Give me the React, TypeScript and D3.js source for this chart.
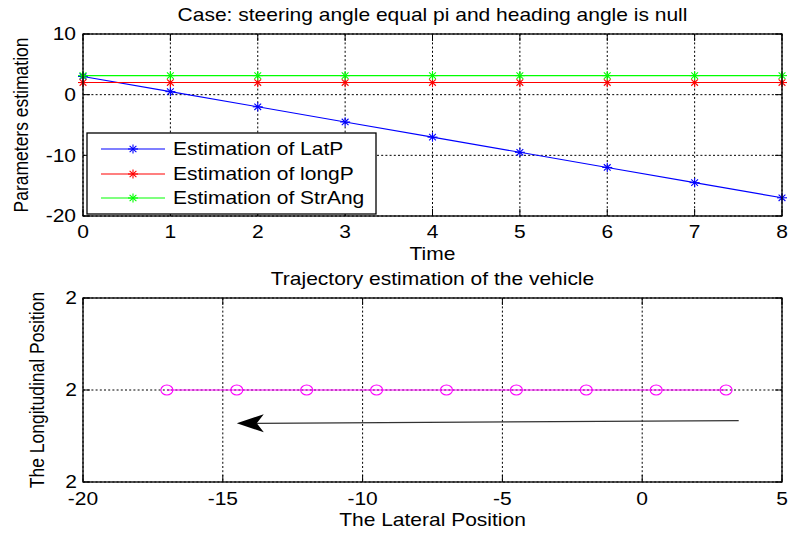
import React from "react";
import * as d3 from "d3";

const timeSteps = [0, 1, 2, 3, 4, 5, 6, 7, 8];
const latP = [3, 0.5, -2, -4.5, -7, -9.5, -12, -14.5, -17];
const longP = [2, 2, 2, 2, 2, 2, 2, 2, 2];
const strAng = [3.1416, 3.1416, 3.1416, 3.1416, 3.1416, 3.1416, 3.1416, 3.1416, 3.1416];

const topXTicks = [0, 1, 2, 3, 4, 5, 6, 7, 8];
const topYTicks = [10, 0, -10, -20];
const botXTicks = [-20, -15, -10, -5, 0, 5];
const botYTicks = [1.6, 2, 2.4];
const botYTickLabels = ["2", "2", "2"];

const seriesNames = ["Estimation of LatP", "Estimation of longP", "Estimation of StrAng"];
const seriesColors = ["#0000ff", "#ff0000", "#00ff00"];

const arrowFrom = { x: 3.45, y: 1.8665 };
const arrowTo = { x: -14.5, y: 1.855 };

const SX = 1.2;
const FONT = "'Liberation Sans', Arial, sans-serif";
const FS = 17.5;

const topBox = { l: 83, r: 782, t: 34, b: 216 };
const botBox = { l: 83, r: 782, t: 298, b: 482 };

function T({ x, y, children, anchor = "middle", rotate = false, size = FS, dy = "0" }: any) {
  const tr = `translate(${x},${y}) scale(${SX},1)` + (rotate ? " rotate(-90)" : "");
  return (
    <g transform={tr}>
      <text x={0} y={0} dy={dy} textAnchor={anchor} fontFamily={FONT} fontSize={size} fill="#000">
        {children}
      </text>
    </g>
  );
}

function Asterisk({ cx, cy, color }: any) {
  const h = 5, v = 4.6, d = 3.4, dv = 3.2;
  return (
    <g stroke={color} strokeWidth={1.1}>
      <line x1={cx - h} y1={cy} x2={cx + h} y2={cy} />
      <line x1={cx} y1={cy - v} x2={cx} y2={cy + v} />
      <line x1={cx - d} y1={cy - dv} x2={cx + d} y2={cy + dv} />
      <line x1={cx - d} y1={cy + dv} x2={cx + d} y2={cy - dv} />
    </g>
  );
}

function Frame({ box, xTicks, yTicks }: any) {
  const tl = 7;
  return (
    <g>
      <rect x={box.l} y={box.t} width={box.r - box.l} height={box.b - box.t} fill="none" stroke="#000" strokeWidth={1.3} />
      {xTicks.map((px: number, i: number) => (
        <g key={"x" + i} stroke="#000" strokeWidth={1}>
          <line x1={px} y1={box.b} x2={px} y2={box.b - tl} />
          <line x1={px} y1={box.t} x2={px} y2={box.t + tl} />
        </g>
      ))}
      {yTicks.map((py: number, i: number) => (
        <g key={"y" + i} stroke="#000" strokeWidth={1}>
          <line x1={box.l} y1={py} x2={box.l + tl} y2={py} />
          <line x1={box.r} y1={py} x2={box.r - tl} y2={py} />
        </g>
      ))}
    </g>
  );
}

export default function App() {
  const xT = d3.scaleLinear().domain([0, 8]).range([topBox.l, topBox.r]);
  const yT = d3.scaleLinear().domain([-20, 10]).range([topBox.b, topBox.t]);
  const xB = d3.scaleLinear().domain([-20, 5]).range([botBox.l, botBox.r]);
  const yB = d3.scaleLinear().domain([1.6, 2.4]).range([botBox.b, botBox.t]);

  const series = [latP, longP, strAng];
  const lineT = (vals: number[]) =>
    d3.line<number>().x((_, i) => xT(timeSteps[i])).y((v) => yT(v))(vals) || "";
  const trajLine =
    d3.line<number>().x((v) => xB(v)).y((_, i) => yB(longP[i]))(latP) || "";

  const ax1 = xB(arrowFrom.x), ay1 = yB(arrowFrom.y);
  const ax2 = xB(arrowTo.x), ay2 = yB(arrowTo.y);
  const ang = (Math.atan2(ay1 - ay2, ax1 - ax2) * 180) / Math.PI;

  const legend = { x: 87, y: 133, w: 289, h: 81 };
  const rowY = [149, 174, 198];

  return (
    <svg width={791} height={533} style={{ position: "absolute", left: 0, top: 0, background: "#fff" }}>
      <rect x={0} y={0} width={791} height={533} fill="#fff" />
      {/* TOP PLOT */}
      <g stroke="#000" strokeWidth={1} strokeDasharray="2,2.2">
        {topXTicks.map((t) => (
          <line key={t} x1={xT(t)} x2={xT(t)} y1={topBox.t} y2={topBox.b} />
        ))}
        {topYTicks.map((t) => (
          <line key={t} x1={topBox.l} x2={topBox.r} y1={yT(t)} y2={yT(t)} />
        ))}
      </g>
      {series.map((vals, si) => (
        <g key={si}>
          <path d={lineT(vals)} fill="none" stroke={seriesColors[si]} strokeWidth={1.1} />
          {vals.map((v, i) => (
            <Asterisk key={i} cx={xT(timeSteps[i])} cy={yT(v)} color={seriesColors[si]} />
          ))}
        </g>
      ))}
      <Frame box={topBox} xTicks={topXTicks.map(xT)} yTicks={topYTicks.map(yT)} />
      {topXTicks.map((t) => (
        <T key={t} x={xT(t)} y={238}>{String(t)}</T>
      ))}
      {topYTicks.map((t) => (
        <T key={t} x={76} y={yT(t)} anchor="end" dy="0.36em">{String(t)}</T>
      ))}
      <T x={(topBox.l + topBox.r) / 2} y={21}>Case: steering angle equal pi and heading angle is null</T>
      <T x={(topBox.l + topBox.r) / 2} y={260}>Time</T>
      <T x={28} y={(topBox.t + topBox.b) / 2} rotate>Parameters estimation</T>

      {/* Legend */}
      <rect x={legend.x} y={legend.y} width={legend.w} height={legend.h} fill="#fff" stroke="#000" strokeWidth={1.3} />
      {seriesNames.map((name, i) => (
        <g key={name}>
          <line x1={101} x2={165} y1={rowY[i]} y2={rowY[i]} stroke={seriesColors[i]} strokeWidth={1.1} />
          <Asterisk cx={133} cy={rowY[i]} color={seriesColors[i]} />
          <T x={173} y={rowY[i]} anchor="start" dy="0.36em">{name}</T>
        </g>
      ))}

      {/* BOTTOM PLOT */}
      <g stroke="#000" strokeWidth={1} strokeDasharray="2,2.2">
        {botXTicks.map((t) => (
          <line key={t} x1={xB(t)} x2={xB(t)} y1={botBox.t} y2={botBox.b} />
        ))}
        {botYTicks.map((t) => (
          <line key={t} x1={botBox.l} x2={botBox.r} y1={yB(t)} y2={yB(t)} />
        ))}
      </g>
      <path d={trajLine} fill="none" stroke="#ff00ff" strokeWidth={1.1} />
      {latP.map((v, i) => (
        <ellipse key={i} cx={xB(v)} cy={yB(longP[i])} rx={6} ry={5} fill="none" stroke="#ff00ff" strokeWidth={1.1} />
      ))}
      <line x1={ax1} y1={ay1} x2={ax2 + 20} y2={ay2} stroke="#333" strokeWidth={1.2} />
      <path
        d="M0,0 L27,-9 L20,0 L27,9 Z"
        transform={`translate(${ax2},${ay2}) rotate(${ang})`}
        fill="#000"
      />
      <Frame box={botBox} xTicks={botXTicks.map(xB)} yTicks={botYTicks.map(yB)} />
      {botXTicks.map((t) => (
        <T key={t} x={xB(t)} y={505}>{String(t)}</T>
      ))}
      {botYTicks.map((t, i) => (
        <T key={t} x={77} y={yB(t)} anchor="end" dy="0.36em">{botYTickLabels[i]}</T>
      ))}
      <T x={(botBox.l + botBox.r) / 2} y={285}>Trajectory estimation of the vehicle</T>
      <T x={(botBox.l + botBox.r) / 2} y={526}>The Lateral Position</T>
      <T x={44} y={(botBox.t + botBox.b) / 2} rotate>The Longitudinal Position</T>
    </svg>
  );
}
